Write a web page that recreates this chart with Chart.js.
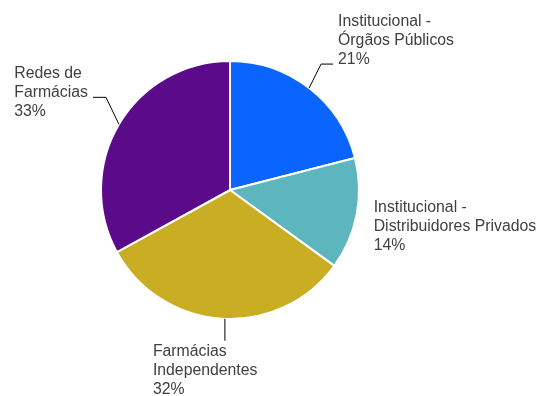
<!DOCTYPE html>
<html>
<head>
<meta charset="utf-8">
<script src="https://cdn.jsdelivr.net/npm/chart.js@4"></script>
<style>
  html, body { margin: 0; padding: 0; background: #fff; }
  #wrap { width: 540px; height: 396px; position: relative; }
</style>
</head>
<body>
<div id="wrap"><canvas id="graficoPizza"></canvas></div>
<script>
const categorias = [
    ['Institucional -', 'Órgãos Públicos'],
    ['Institucional -', 'Distribuidores Privados'],
    ['Farmácias', 'Independentes'],
    ['Redes de', 'Farmácias']
];
const percentuais = [21, 14, 32, 33];
const cores = ['#0A64FF', '#5DB6BE', '#C9AD22', '#5B0A8A'];

// ajustes dos rótulos (linha guia + posição do texto)
const rotulos = [
    { inicio: [0, 0], guia: [12, -24], gancho: 12, alinhar: 'esq', dx: 5, dy: -42 },
    { inicio: [0, 0], guia: null, gancho: 0, alinhar: 'esq', dx: 17, dy: -7 },
    { inicio: [3, 0], guia: [0, 22], gancho: 0, alinhar: 'esq', dx: -72, dy: 11 },
    { inicio: [0, 0], guia: [-13, -27], gancho: -13, alinhar: 'dir', dx: -5, dy: -24 }
];

const pluginRotulos = {
    id: 'rotulos',
    afterDatasetsDraw(chart) {
        const ctx = chart.ctx;
        const arcos = chart.getDatasetMeta(0).data;
        ctx.save();
        ctx.font = '15.8px "Liberation Sans", Arial, sans-serif';
        ctx.fillStyle = '#404040';
        ctx.strokeStyle = '#000';
        ctx.lineWidth = 1;
        ctx.textBaseline = 'middle';
        arcos.forEach((arco, i) => {
            const meio = (arco.startAngle + arco.endAngle) / 2;
            const cfg = rotulos[i];
            const bx = arco.x + Math.cos(meio) * arco.outerRadius + cfg.inicio[0];
            const by = arco.y + Math.sin(meio) * arco.outerRadius + cfg.inicio[1];
            let fx = bx, fy = by;
            if (cfg.guia) {
                const ex = bx + cfg.guia[0], ey = by + cfg.guia[1];
                fx = ex + cfg.gancho; fy = ey;
                ctx.beginPath();
                ctx.moveTo(bx, by);
                ctx.lineTo(ex, ey);
                ctx.lineTo(fx, fy);
                ctx.stroke();
            }
            const linhas = categorias[i].concat([percentuais[i] + '%']);
            const largura = Math.max(...linhas.map(l => ctx.measureText(l).width));
            const esq = cfg.alinhar === 'esq' ? fx + cfg.dx : fx + cfg.dx - largura;
            ctx.textAlign = 'left';
            linhas.forEach((l, k) => {
                ctx.fillText(l, esq, fy + cfg.dy + k * 19);
            });
        });
        ctx.restore();
    }
};

new Chart(document.getElementById('graficoPizza').getContext('2d'), {
    type: 'pie',
    data: {
        labels: categorias.map(c => c.join(' ')),
        datasets: [{
            data: percentuais,
            backgroundColor: cores,
            borderColor: '#fff',
            borderWidth: 2
        }]
    },
    options: {
        responsive: true,
        maintainAspectRatio: false,
        animation: false,
        layout: { padding: { top: 60, bottom: 76, left: 100, right: 180 } },
        plugins: {
            legend: { display: false },
            tooltip: { enabled: false }
        }
    },
    plugins: [pluginRotulos]
});
</script>
</body>
</html>
